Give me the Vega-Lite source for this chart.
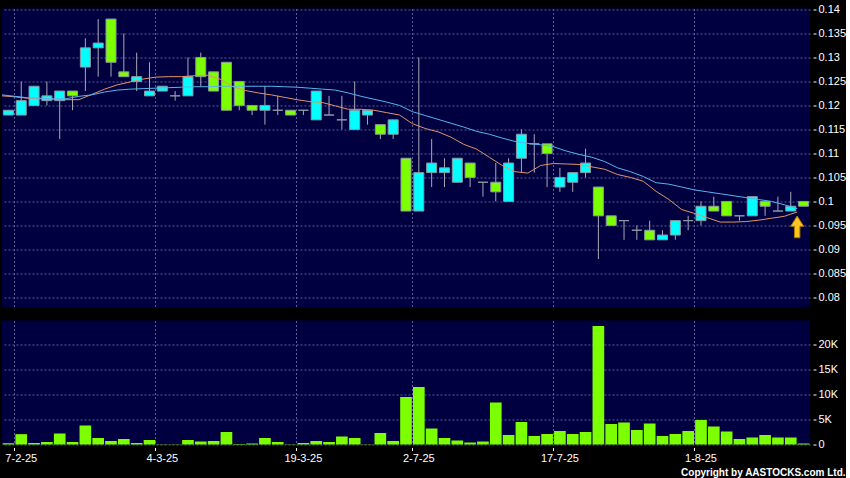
{
  "$schema": "https://vega.github.io/schema/vega-lite/v6.json",
  "background": "#000000",
  "padding": {"left": 0, "top": 2.5, "right": 0, "bottom": 0},
  "datasets": {
    "d": [
      {"i":0,"o":0.118,"h":0.119,"l":0.118,"c":0.119,"v":250,"m1":0.1220,"m2":0.1222},
      {"i":1,"o":0.118,"h":0.125,"l":0.118,"c":0.121,"v":2070,"m1":0.1218,"m2":0.1219},
      {"i":2,"o":0.120,"h":0.124,"l":0.120,"c":0.124,"v":300,"m1":0.1215,"m2":0.1216},
      {"i":3,"o":0.121,"h":0.125,"l":0.120,"c":0.122,"v":500,"m1":0.1214,"m2":0.1215},
      {"i":4,"o":0.121,"h":0.123,"l":0.113,"c":0.123,"v":2200,"m1":0.1213,"m2":0.1214},
      {"i":5,"o":0.123,"h":0.123,"l":0.119,"c":0.122,"v":500,"m1":0.1212,"m2":0.1214},
      {"i":6,"o":0.128,"h":0.134,"l":0.123,"c":0.132,"v":3800,"m1":0.1212,"m2":0.1219},
      {"i":7,"o":0.132,"h":0.138,"l":0.126,"c":0.133,"v":1300,"m1":0.1223,"m2":0.1222},
      {"i":8,"o":0.138,"h":0.138,"l":0.126,"c":0.129,"v":700,"m1":0.1234,"m2":0.1228},
      {"i":9,"o":0.127,"h":0.135,"l":0.126,"c":0.126,"v":1100,"m1":0.1243,"m2":0.1232},
      {"i":10,"o":0.125,"h":0.131,"l":0.123,"c":0.126,"v":300,"m1":0.1249,"m2":0.1234},
      {"i":11,"o":0.122,"h":0.129,"l":0.122,"c":0.123,"v":900,"m1":0.1255,"m2":0.1235},
      {"i":12,"o":0.123,"h":0.124,"l":0.123,"c":0.124,"v":50,"m1":0.1259,"m2":0.1236},
      {"i":13,"o":0.122,"h":0.123,"l":0.121,"c":0.122,"v":50,"m1":0.1260,"m2":0.1237},
      {"i":14,"o":0.122,"h":0.130,"l":0.122,"c":0.126,"v":900,"m1":0.1260,"m2":0.1238},
      {"i":15,"o":0.130,"h":0.131,"l":0.124,"c":0.126,"v":600,"m1":0.1262,"m2":0.1239},
      {"i":16,"o":0.127,"h":0.127,"l":0.123,"c":0.123,"v":700,"m1":0.1263,"m2":0.1239},
      {"i":17,"o":0.129,"h":0.129,"l":0.119,"c":0.119,"v":2500,"m1":0.1255,"m2":0.1240},
      {"i":18,"o":0.125,"h":0.125,"l":0.119,"c":0.120,"v":100,"m1":0.1239,"m2":0.1240},
      {"i":19,"o":0.120,"h":0.120,"l":0.118,"c":0.119,"v":200,"m1":0.1231,"m2":0.1240},
      {"i":20,"o":0.119,"h":0.124,"l":0.116,"c":0.120,"v":1300,"m1":0.1226,"m2":0.1240},
      {"i":21,"o":0.119,"h":0.122,"l":0.118,"c":0.119,"v":500,"m1":0.1222,"m2":0.1240},
      {"i":22,"o":0.119,"h":0.119,"l":0.118,"c":0.118,"v":50,"m1":0.1217,"m2":0.1239},
      {"i":23,"o":0.119,"h":0.119,"l":0.118,"c":0.119,"v":300,"m1":0.1212,"m2":0.1238},
      {"i":24,"o":0.117,"h":0.123,"l":0.117,"c":0.123,"v":700,"m1":0.1208,"m2":0.1236},
      {"i":25,"o":0.118,"h":0.122,"l":0.118,"c":0.118,"v":500,"m1":0.1206,"m2":0.1234},
      {"i":26,"o":0.117,"h":0.122,"l":0.115,"c":0.117,"v":1600,"m1":0.1199,"m2":0.1232},
      {"i":27,"o":0.115,"h":0.125,"l":0.115,"c":0.119,"v":1300,"m1":0.1192,"m2":0.1226},
      {"i":28,"o":0.118,"h":0.119,"l":0.116,"c":0.119,"v":50,"m1":0.1192,"m2":0.1219},
      {"i":29,"o":0.116,"h":0.116,"l":0.113,"c":0.114,"v":2300,"m1":0.1190,"m2":0.1213},
      {"i":30,"o":0.114,"h":0.117,"l":0.113,"c":0.117,"v":700,"m1":0.1185,"m2":0.1207},
      {"i":31,"o":0.109,"h":0.109,"l":0.098,"c":0.098,"v":9500,"m1":0.1180,"m2":0.1200},
      {"i":32,"o":0.098,"h":0.130,"l":0.098,"c":0.106,"v":11500,"m1":0.1162,"m2":0.1187},
      {"i":33,"o":0.106,"h":0.113,"l":0.103,"c":0.108,"v":3200,"m1":0.1152,"m2":0.1179},
      {"i":34,"o":0.106,"h":0.109,"l":0.103,"c":0.107,"v":1300,"m1":0.1145,"m2":0.1171},
      {"i":35,"o":0.104,"h":0.109,"l":0.104,"c":0.109,"v":800,"m1":0.1134,"m2":0.1163},
      {"i":36,"o":0.108,"h":0.108,"l":0.103,"c":0.105,"v":400,"m1":0.1119,"m2":0.1155},
      {"i":37,"o":0.104,"h":0.104,"l":0.101,"c":0.104,"v":600,"m1":0.1109,"m2":0.1146},
      {"i":38,"o":0.104,"h":0.108,"l":0.100,"c":0.102,"v":8400,"m1":0.1092,"m2":0.1140},
      {"i":39,"o":0.100,"h":0.109,"l":0.100,"c":0.108,"v":1900,"m1":0.1075,"m2":0.1132},
      {"i":40,"o":0.109,"h":0.115,"l":0.106,"c":0.114,"v":4500,"m1":0.1062,"m2":0.1125},
      {"i":41,"o":0.112,"h":0.114,"l":0.106,"c":0.112,"v":1700,"m1":0.1059,"m2":0.1121},
      {"i":42,"o":0.112,"h":0.112,"l":0.103,"c":0.110,"v":2100,"m1":0.1075,"m2":0.1118},
      {"i":43,"o":0.103,"h":0.107,"l":0.102,"c":0.105,"v":2700,"m1":0.1079,"m2":0.1114},
      {"i":44,"o":0.104,"h":0.106,"l":0.102,"c":0.106,"v":2100,"m1":0.1078,"m2":0.1105},
      {"i":45,"o":0.106,"h":0.111,"l":0.105,"c":0.108,"v":2500,"m1":0.1077,"m2":0.1098},
      {"i":46,"o":0.103,"h":0.103,"l":0.088,"c":0.097,"v":23700,"m1":0.1072,"m2":0.1092},
      {"i":47,"o":0.097,"h":0.097,"l":0.095,"c":0.095,"v":4100,"m1":0.1067,"m2":0.1083},
      {"i":48,"o":0.096,"h":0.096,"l":0.092,"c":0.096,"v":4400,"m1":0.1056,"m2":0.1070},
      {"i":49,"o":0.094,"h":0.095,"l":0.092,"c":0.094,"v":2900,"m1":0.1050,"m2":0.1062},
      {"i":50,"o":0.094,"h":0.096,"l":0.092,"c":0.092,"v":4200,"m1":0.1042,"m2":0.1052},
      {"i":51,"o":0.092,"h":0.094,"l":0.092,"c":0.093,"v":1700,"m1":0.1021,"m2":0.1039},
      {"i":52,"o":0.093,"h":0.096,"l":0.092,"c":0.096,"v":2100,"m1":0.1004,"m2":0.1036},
      {"i":53,"o":0.096,"h":0.097,"l":0.094,"c":0.096,"v":2700,"m1":0.0983,"m2":0.1030},
      {"i":54,"o":0.096,"h":0.100,"l":0.095,"c":0.099,"v":4900,"m1":0.0975,"m2":0.1024},
      {"i":55,"o":0.099,"h":0.101,"l":0.098,"c":0.098,"v":3600,"m1":0.0966,"m2":0.1020},
      {"i":56,"o":0.100,"h":0.100,"l":0.097,"c":0.097,"v":2600,"m1":0.0957,"m2":0.1016},
      {"i":57,"o":0.097,"h":0.097,"l":0.096,"c":0.097,"v":1100,"m1":0.0957,"m2":0.1012},
      {"i":58,"o":0.097,"h":0.101,"l":0.097,"c":0.101,"v":1400,"m1":0.0958,"m2":0.1008},
      {"i":59,"o":0.100,"h":0.100,"l":0.097,"c":0.099,"v":1900,"m1":0.0961,"m2":0.1004},
      {"i":60,"o":0.098,"h":0.101,"l":0.098,"c":0.098,"v":1400,"m1":0.0965,"m2":0.1000},
      {"i":61,"o":0.098,"h":0.102,"l":0.098,"c":0.099,"v":1400,"m1":0.0969,"m2":0.0993},
      {"i":62,"o":0.100,"h":0.100,"l":0.099,"c":0.099,"v":200,"m1":0.0978,"m2":0.0985}
    ]
  },
  "data": {"name": "d"},
  "config": {
    "view": {"fill": "#000040", "stroke": null},
    "axis": {
      "labelColor": "#ffffff",
      "labelFont": "Liberation Sans",
      "labelFontSize": 11,
      "labelOverlap": false,
      "tickColor": "#ffffff",
      "tickSize": 3,
      "domain": false,
      "gridColor": "#5c5c96",
      "gridDash": [2, 2],
      "gridWidth": 1,
      "title": null
    }
  },
  "spacing": 13,
  "bounds": "flush",
  "title": {
    "text": "Copyright by AASTOCKS.com Ltd.",
    "orient": "bottom",
    "anchor": "end",
    "frame": "bounds",
    "font": "Liberation Sans",
    "fontSize": 10,
    "fontWeight": "bold",
    "color": "#ffffff",
    "offset": 4
  },
  "vconcat": [
    {
      "width": 808,
      "height": 299,
      "encoding": {
        "x": {
          "field": "i",
          "type": "ordinal",
          "scale": {"paddingInner": 0, "paddingOuter": 0},
          "axis": {"values": [1, 12, 23, 32, 43, 54], "bandPosition": 0, "labels": false, "ticks": false, "grid": true, "domain": false}
        }
      },
      "layer": [
        {
          "mark": {"type": "rule", "color": "#a8a8b8", "strokeWidth": 1},
          "encoding": {
            "y": {
              "field": "l",
              "type": "quantitative",
              "scale": {"domain": [0.0779, 0.1402], "nice": false, "zero": false},
              "axis": {"orient": "right", "values": [0.08, 0.085, 0.09, 0.095, 0.1, 0.105, 0.11, 0.115, 0.12, 0.125, 0.13, 0.135, 0.14], "format": ".3~f", "offset": 3, "labelPadding": 2, "grid": true, "labelOverlap": false}
            },
            "y2": {"field": "h"}
          }
        },
        {
          "mark": {"type": "bar", "width": {"band": 0.78}, "stroke": "#8c9aa0", "strokeWidth": 1},
          "encoding": {
            "y": {
              "field": "o",
              "type": "quantitative",
              "scale": {"domain": [0.0779, 0.1402], "nice": false, "zero": false},
              "axis": {"orient": "right", "values": [0.08, 0.085, 0.09, 0.095, 0.1, 0.105, 0.11, 0.115, 0.12, 0.125, 0.13, 0.135, 0.14], "format": ".3~f", "offset": 3, "labelPadding": 2, "grid": true, "labelOverlap": false}
            },
            "y2": {"field": "c"},
            "fill": {
              "condition": [
                {"test": "datum.c > datum.o", "value": "#00ffff"},
                {"test": "datum.c < datum.o", "value": "#7cff00"}
              ],
              "value": "#a8a8b8"
            }
          }
        },
        {
          "mark": {"type": "line", "color": "#e0946a", "strokeWidth": 1},
          "encoding": {
            "x": {"field": "i", "type": "ordinal", "bandPosition": 0},
            "y": {
              "field": "m1",
              "type": "quantitative",
              "scale": {"domain": [0.0779, 0.1402], "nice": false, "zero": false},
              "axis": {"orient": "right", "values": [0.08, 0.085, 0.09, 0.095, 0.1, 0.105, 0.11, 0.115, 0.12, 0.125, 0.13, 0.135, 0.14], "format": ".3~f", "offset": 3, "labelPadding": 2, "grid": true, "labelOverlap": false}
            }
          }
        },
        {
          "mark": {"type": "line", "color": "#55b5f0", "strokeWidth": 1},
          "encoding": {
            "x": {"field": "i", "type": "ordinal", "bandPosition": 0},
            "y": {
              "field": "m2",
              "type": "quantitative",
              "scale": {"domain": [0.0779, 0.1402], "nice": false, "zero": false},
              "axis": {"orient": "right", "values": [0.08, 0.085, 0.09, 0.095, 0.1, 0.105, 0.11, 0.115, 0.12, 0.125, 0.13, 0.135, 0.14], "format": ".3~f", "offset": 3, "labelPadding": 2, "grid": true, "labelOverlap": false}
            }
          }
        },
        {
          "transform": [{"filter": "datum.i == 62"}],
          "mark": {"type": "point", "shape": "M0,-1L0.6,-0.05L0.25,-0.05L0.25,1L-0.25,1L-0.25,-0.05L-0.6,-0.05Z", "filled": true, "size": 470, "fill": "#ffc420", "stroke": "#b07800", "strokeWidth": 1, "opacity": 1},
          "encoding": {
            "x": {"field": "i", "type": "ordinal", "bandPosition": 0},
            "y": {
              "datum": 0.0947,
              "type": "quantitative",
              "scale": {"domain": [0.0779, 0.1402], "nice": false, "zero": false},
              "axis": {"orient": "right", "values": [0.08, 0.085, 0.09, 0.095, 0.1, 0.105, 0.11, 0.115, 0.12, 0.125, 0.13, 0.135, 0.14], "format": ".3~f", "offset": 3, "labelPadding": 2, "grid": true, "labelOverlap": false}
            }
          }
        }
      ]
    },
    {
      "width": 808,
      "height": 124,
      "mark": {"type": "bar", "width": {"band": 0.91}, "fill": "#7cff00"},
      "encoding": {
        "x": {
          "field": "i",
          "type": "ordinal",
          "scale": {"paddingInner": 0, "paddingOuter": 0},
          "axis": {
            "values": [1, 12, 23, 32, 43, 54],
            "bandPosition": 0,
            "labelAngle": 0,
            "grid": true,
            "offset": 3,
            "labelPadding": 2,
            "labelOverlap": false,
            "labelExpr": "datum.value == 1 ? '7-2-25' : datum.value == 12 ? '4-3-25' : datum.value == 23 ? '19-3-25' : datum.value == 32 ? '2-7-25' : datum.value == 43 ? '17-7-25' : '1-8-25'"
          }
        },
        "y": {
          "field": "v",
          "type": "quantitative",
          "scale": {"domain": [0, 24800], "nice": false},
          "axis": {"orient": "right", "values": [0, 5000, 10000, 15000, 20000], "offset": 3, "labelPadding": 2, "grid": true, "labelOverlap": false, "labelExpr": "datum.value == 0 ? '0' : (datum.value / 1000) + 'K'"}
        }
      }
    }
  ]
}
